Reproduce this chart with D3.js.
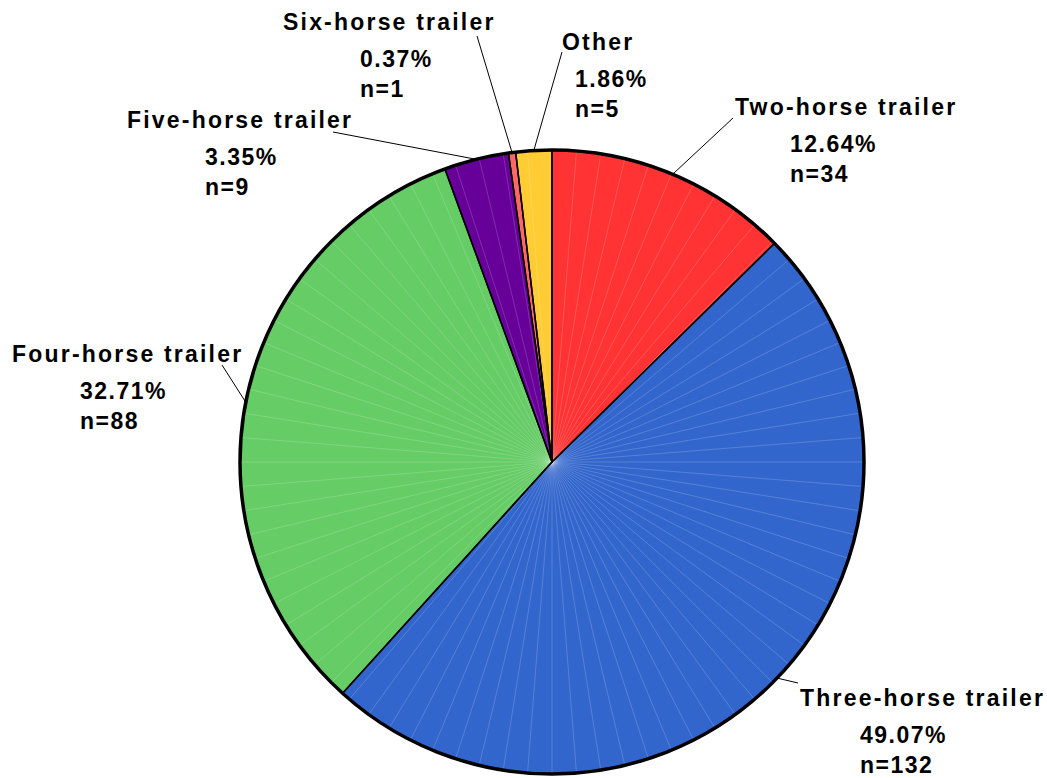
<!DOCTYPE html>
<meta charset="utf-8">
<style>
    body { margin: 0; background: #fff; }
    .lbl text {
        font: bold 23px "Liberation Sans", Arial, sans-serif;
        letter-spacing: 1.5px;
        fill: #000;
    }
    .lbl text.title { letter-spacing: 2.2px; }
</style>
<svg></svg>
<script src="https://d3js.org/d3.v7.min.js"></script>
<script>

    // categories, clockwise from 12 o'clock
    var categories = ["Two-horse trailer", "Three-horse trailer", "Four-horse trailer",
                      "Five-horse trailer", "Six-horse trailer", "Other"];
    var counts = [34, 132, 88, 9, 1, 5];
    var colors = ["#ff3333", "#3366cc", "#66cc66", "#660099", "#ff6666", "#ffcc33"];

    // label placement: title start x / baseline, value lines start x, leader line end
    var labelPos = [
        { tx: 735, ty: 115, vx: 790, lx: 733, ly: 118 },
        { tx: 800, ty: 706, vx: 860, lx: 798, ly: 683 },
        { tx: 12,  ty: 362, vx: 80,  lx: 222, ly: 365 },
        { tx: 127, ty: 128, vx: 205, lx: 333, ly: 132 },
        { tx: 283, ty: 30,  vx: 360, lx: 477, ly: 36 },
        { tx: 562, ty: 50,  vx: 575, lx: 562, ly: 52 }
    ];

    var width = 1047,
        height = 778,
        cx = 552, cy = 462,
        radius = 312;

    var svg = d3.select("svg")
        .attr("width", width)
        .attr("height", height);

    var total = d3.sum(counts);
    var data = categories.map(function (c, i) {
        return { name: c, n: counts[i], color: colors[i], pos: labelPos[i] };
    });

    var pie = d3.pie()
        .sort(null)
        .value(function (d) { return d.n; });

    var path = d3.arc()
        .outerRadius(radius)
        .innerRadius(0);

    var edge = d3.arc()
        .outerRadius(radius)
        .innerRadius(radius);

    var g = svg.append("g").attr("transform", "translate(" + cx + "," + cy + ")");

    var arcs = pie(data);

    g.selectAll(".slice")
        .data(arcs)
        .enter().append("path")
        .attr("class", "slice")
        .attr("d", path)
        .attr("fill", function (d) { return d.data.color; });

    // faint radial shading lines
    var rays = d3.range(0, 360, 4.5);
    g.selectAll(".ray")
        .data(rays)
        .enter().append("line")
        .attr("x1", 0).attr("y1", 0)
        .attr("x2", function (a) { return radius * Math.sin(a * Math.PI / 180); })
        .attr("y2", function (a) { return -radius * Math.cos(a * Math.PI / 180); })
        .attr("stroke", "#fff")
        .attr("stroke-opacity", 0.25)
        .attr("stroke-width", 0.7);

    g.selectAll(".border")
        .data(arcs)
        .enter().append("path")
        .attr("d", path)
        .attr("fill", "none")
        .attr("stroke", "#000")
        .attr("stroke-width", 1.5)
        .attr("stroke-linejoin", "round");

    g.append("circle")
        .attr("r", radius)
        .attr("fill", "none")
        .attr("stroke", "#000")
        .attr("stroke-width", 3.5);

    var pct = d3.format(".2f");

    var lbl = svg.append("g").attr("class", "lbl")
        .selectAll("g")
        .data(arcs)
        .enter().append("g");

    lbl.append("line")
        .attr("x1", function (d) { return cx + edge.centroid(d)[0]; })
        .attr("y1", function (d) { return cy + edge.centroid(d)[1]; })
        .attr("x2", function (d) { return d.data.pos.lx; })
        .attr("y2", function (d) { return d.data.pos.ly; })
        .attr("stroke", "#000")
        .attr("stroke-width", 1);

    lbl.append("text")
        .attr("class", "title")
        .attr("x", function (d) { return d.data.pos.tx; })
        .attr("y", function (d) { return d.data.pos.ty; })
        .text(function (d) { return d.data.name; });

    lbl.append("text")
        .attr("x", function (d) { return d.data.pos.vx; })
        .attr("y", function (d) { return d.data.pos.ty + 37; })
        .text(function (d) { return pct(d.data.n / total * 100) + "%"; });

    lbl.append("text")
        .attr("x", function (d) { return d.data.pos.vx; })
        .attr("y", function (d) { return d.data.pos.ty + 67; })
        .text(function (d) { return "n=" + d.data.n; });

</script>
